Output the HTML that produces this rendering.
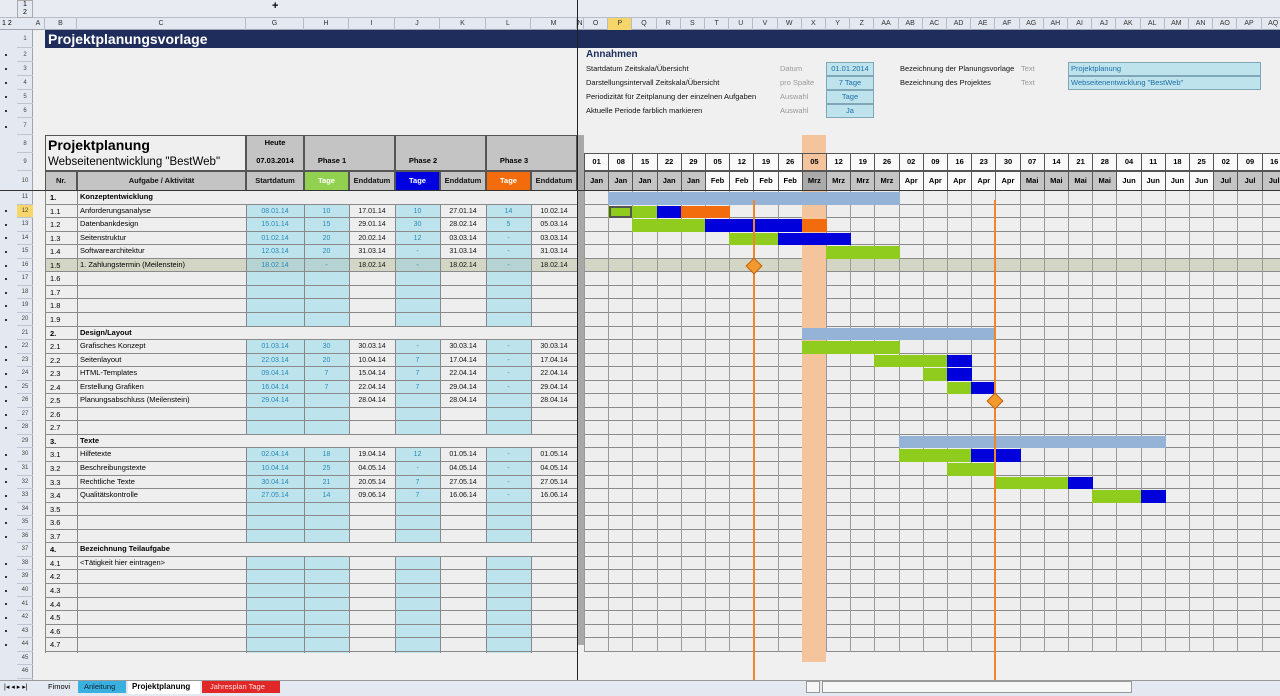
<!DOCTYPE html>
<html><head><meta charset="utf-8">
<style>
body{margin:0;width:1280px;height:696px;overflow:hidden;background:#f0f0f0;font-family:"Liberation Sans",sans-serif;position:relative}
div{position:absolute;box-sizing:border-box}
</style></head><body>
<div id="root" style="left:0;top:0;width:1280px;height:696px"></div>
<script>
(function(){
const R=document.getElementById('root');
function d(x,y,w,h,st,txt){const e=document.createElement('div');e.style.cssText='left:'+x+'px;top:'+y+'px;width:'+w+'px;height:'+h+'px;white-space:nowrap;'+(st||'');if(txt!==undefined)e.innerHTML=txt;R.appendChild(e);return e;}
function ry(n){return 191+(n-11)*13.55;}
d(0,0,1280,18,'background:#e8ebf2;border-bottom:1px solid #b8bcc8');
d(17,0,16,18,'font-size:7px;line-height:8px;text-align:center;border:1px solid #aaa;background:#e4e8f0','1<br>2');
d(272,1,8,10,'font-size:11px;line-height:10px;font-weight:bold','+');
d(0,18,1280,12,'background:#e4e8f0;border-bottom:1px solid #a0a4b0');
d(0,30,33,650,'background:#e4e8f0;border-right:1px solid #a0a4b0');
d(2,19,14,10,'font-size:7px;line-height:10px','1 2');
const cols=[['A',32,45],['B',45,77],['C',77,246],['G',246,304],['H',304,349],['I',349,395],['J',395,440],['K',440,486],['L',486,531],['M',531,577],['N',577,584]];
const gl=['O','P','Q','R','S','T','U','V','W','X','Y','Z','AA','AB','AC','AD','AE','AF','AG','AH','AI','AJ','AK','AL','AM','AN','AO','AP','AQ'];
cols.forEach(c=>d(c[1],18,c[2]-c[1],12,'font-size:7px;text-align:center;line-height:12px;color:#333;border-right:1px solid #b8bcc8',c[0]));
const G0=584,CW=24.2;
gl.forEach((c,i)=>d(G0+i*CW,18,CW,12,'font-size:7px;text-align:center;line-height:12px;color:#333;border-right:1px solid #b8bcc8;'+(c=='P'?'background:#f6d66a;':''),c));
const rowTops={1:30,2:48,3:62,4:76,5:90,6:104,7:118,8:135,9:153,10:171};
for(let n=1;n<=46;n++){let y=n<=10?rowTops[n]:ry(n);let h=n<=10?((rowTops[n+1]||191)-y):13.55;
 d(17,y,16,h,'font-size:6px;text-align:center;color:#444;border-bottom:1px solid #c0c4d0;line-height:'+h+'px;'+(n==12?'background:#f6d66a;':''),n);
 if(n>=2&&n<=7||n>=12&&n<=20||n>=22&&n<=28||n>=30&&n<=36||n>=38&&n<=44) d(5,y+h/2-1,2,2,'background:#333');}
d(45,30,1235,18,'background:#1f2d5c');
d(48,30,300,18,'color:#fff;font-weight:bold;font-size:14px;line-height:18px','Projektplanungsvorlage');
d(586,48,100,14,'font-weight:bold;font-size:10px;color:#1f2d5c;line-height:14px','Annahmen');
const an=[['Startdatum Zeitskala/Übersicht','Datum','01.01.2014'],['Darstellungsintervall Zeitskala/Übersicht','pro Spalte','7 Tage'],['Periodizität für Zeitplanung der einzelnen Aufgaben','Auswahl','Tage'],['Aktuelle Periode farblich markieren','Auswahl','Ja']];
an.forEach((a,i)=>{let y=62+i*14;d(586,y,190,14,'font-size:7.5px;line-height:14px;color:#111',a[0]);
 d(780,y,45,14,'font-size:7.5px;color:#999;line-height:14px',a[1]);
 d(826,y,48,14,'background:#bfe3ec;border:1px solid #7fa7b8;font-size:7.5px;color:#1b6fa8;text-align:center;line-height:12px',a[2]);});
d(900,62,120,14,'font-size:7.5px;line-height:14px;color:#111','Bezeichnung der Planungsvorlage');
d(900,76,120,14,'font-size:7.5px;line-height:14px;color:#111','Bezeichnung des Projektes');
d(1021,62,30,14,'font-size:7.5px;line-height:14px;color:#999','Text');d(1021,76,30,14,'font-size:7.5px;line-height:14px;color:#999','Text');
d(1068,62,193,14,'background:#bfe3ec;border:1px solid #7fa7b8;font-size:7.5px;color:#1b6fa8;line-height:12px;padding-left:2px','Projektplanung');
d(1068,76,193,14,'background:#bfe3ec;border:1px solid #7fa7b8;font-size:7.5px;color:#1b6fa8;line-height:12px;padding-left:2px','Webseitenentwicklung "BestWeb"');
const hb='border:1px solid #555;';
d(45,135,201,36,'background:#efefef;'+hb);
d(48,136,200,18,'font-weight:bold;font-size:14px;line-height:18px','Projektplanung');
d(48,154,200,16,'font-size:11.5px;line-height:16px','Webseitenentwicklung "BestWeb"');
d(246,135,58,36,'background:#c4c4c4;'+hb);
d(246,138,58,12,'font-size:7.5px;font-weight:bold;text-align:center','Heute');
d(246,156,58,12,'font-size:7.5px;font-weight:bold;text-align:center','07.03.2014');
[[304,395,'Phase 1'],[395,486,'Phase 2'],[486,577,'Phase 3']].forEach(p=>{d(p[0],135,p[1]-p[0],36,'background:#c4c4c4;'+hb);d(p[0],156,p[1]-p[0]-35,12,'font-size:7.5px;font-weight:bold;text-align:center',p[2]);});
const h10=[[45,77,'Nr.','#c4c4c4','#111'],[77,246,'Aufgabe / Aktivität','#c4c4c4','#111'],[246,304,'Startdatum','#c4c4c4','#111'],[304,349,'Tage','#92d050','#fff'],[349,395,'Enddatum','#c4c4c4','#111'],[395,440,'Tage','#0000e0','#fff'],[440,486,'Enddatum','#c4c4c4','#111'],[486,531,'Tage','#f26b0c','#fff'],[531,577,'Enddatum','#c4c4c4','#111']];
h10.forEach(h=>d(h[0],171,h[1]-h[0],20,'background:'+h[3]+';color:'+h[4]+';'+hb+'font-size:7.5px;font-weight:bold;text-align:center;line-height:18px',h[2]));
const rows={11:['1.','Konzeptentwicklung'],12:['1.1','Anforderungsanalyse','08.01.14','10','17.01.14','10','27.01.14','14','10.02.14'],13:['1.2','Datenbankdesign','15.01.14','15','29.01.14','30','28.02.14','5','05.03.14'],14:['1.3','Seitenstruktur','01.02.14','20','20.02.14','12','03.03.14','-','03.03.14'],15:['1.4','Softwarearchitektur','12.03.14','20','31.03.14','-','31.03.14','-','31.03.14'],16:['1.5','1. Zahlungstermin (Meilenstein)','18.02.14','-','18.02.14','-','18.02.14','-','18.02.14'],17:['1.6'],18:['1.7'],19:['1.8'],20:['1.9'],21:['2.','Design/Layout'],22:['2.1','Grafisches Konzept','01.03.14','30','30.03.14','-','30.03.14','-','30.03.14'],23:['2.2','Seitenlayout','22.03.14','20','10.04.14','7','17.04.14','-','17.04.14'],24:['2.3','HTML-Templates','09.04.14','7','15.04.14','7','22.04.14','-','22.04.14'],25:['2.4','Erstellung Grafiken','16.04.14','7','22.04.14','7','29.04.14','-','29.04.14'],26:['2.5','Planungsabschluss (Meilenstein)','29.04.14','','28.04.14','','28.04.14','','28.04.14'],27:['2.6'],28:['2.7'],29:['3.','Texte'],30:['3.1','Hilfetexte','02.04.14','18','19.04.14','12','01.05.14','-','01.05.14'],31:['3.2','Beschreibungstexte','10.04.14','25','04.05.14','-','04.05.14','-','04.05.14'],32:['3.3','Rechtliche Texte','30.04.14','21','20.05.14','7','27.05.14','-','27.05.14'],33:['3.4','Qualitätskontrolle','27.05.14','14','09.06.14','7','16.06.14','-','16.06.14'],34:['3.5'],35:['3.6'],36:['3.7'],37:['4.','Bezeichnung Teilaufgabe'],38:['4.1','&lt;Tätigkeit hier eintragen&gt;'],39:['4.2'],40:['4.3'],41:['4.4'],42:['4.5'],43:['4.6'],44:['4.7']};
const cx=[45,77,246,304,349,395,440,486,531,577];
for(let n=11;n<=44;n++){const r=rows[n],y=ry(n),h=13.55,sec=[11,21,29,37].includes(n);
 const bg=n==16?'#d3d6c4':'#eeeeee';
 d(45,y,532,h+1,'background:'+bg);
 if(!sec){[2,3,5,7].forEach(k=>d(cx[k],y,cx[k+1]-cx[k],h+1,'background:'+(n==16?'#b4d3d2':'#bde4ec')));}
 for(let k=0;k<10;k++){if(sec&&k>1&&k<9)continue;d(cx[k],y,1,h+1,'background:#888');}
 d(50,y,27,h,'font-size:7.5px;line-height:'+h+'px;'+(sec?'font-weight:bold':''),r[0]);
 if(r[1])d(80,y,165,h,'font-size:7.5px;line-height:'+(h-2)+'px;'+(sec?'font-weight:bold':''),r[1]);
 if(r.length>2)for(let k=2;k<9;k++){const blue=[2,3,5,7].includes(k);d(cx[k],y,cx[k+1]-cx[k],h,'font-size:7px;text-align:center;line-height:'+(h+1)+'px;color:'+(blue?'#2a8ab8':'#111'),r[k]);}
}
for(let n=11;n<=45;n++)d(45,Math.round(ry(n))-1,532,1,'background:#8a8a8a');
d(577,135,7,510,'background:#a8a8a8');
d(802,135,24,18,'background:#f4c49c');
const days=['01','08','15','22','29','05','12','19','26','05','12','19','26','02','09','16','23','30','07','14','21','28','04','11','18','25','02','09','16'];
const mon=['Jan','Jan','Jan','Jan','Jan','Feb','Feb','Feb','Feb','Mrz','Mrz','Mrz','Mrz','Apr','Apr','Apr','Apr','Apr','Mai','Mai','Mai','Mai','Jun','Jun','Jun','Jun','Jul','Jul','Jul'];
days.forEach((t,i)=>{const x=G0+i*CW;
 d(x,153,CW+1,18,'background:'+(i==9?'#f4c49c':'#fafafa')+';border:1px solid #555;font-size:7.5px;font-weight:bold;text-align:center;line-height:16px',t);
 const g=['Jan','Mrz','Mai','Jul'].includes(mon[i]);
 d(x,171,CW+1,20,'background:'+(i==9?'#aaa':(g?'#c4c4c4':'#fafafa'))+';border:1px solid #555;font-size:7.5px;font-weight:bold;text-align:center;line-height:18px',mon[i]);});
d(584,191,696,ry(45)-191,'background:#eeeeee');
for(let n=11;n<=44;n++){const y=ry(n);if(n==16)d(584,y,696,13.55,'background:#d3d6c4');d(584,Math.round(y+13.55)-1,696,1,'background:#8a8a8a');}
for(let i=0;i<=29;i++)d(Math.round(G0+i*CW),191,1,ry(45)-191,'background:#9a9a9a');
d(802,191,24,471,'background:#f4c49c');
const GR='#8fcc1e',BL='#0000dd',OR='#f26b0c',SB='#95b3d7';
function bar(n,a,b,c){d(G0+a*CW,ry(n)+1,(b-a)*CW+1,12.5,'background:'+c);}
bar(11,1,13,SB);bar(12,1,3,GR);bar(12,3,4,BL);bar(12,4,6,OR);bar(13,2,5,GR);bar(13,5,9,BL);bar(13,9,10,OR);
bar(14,6,8,GR);bar(14,8,11,BL);bar(15,10,13,GR);
bar(21,9,17,SB);bar(22,9,13,GR);bar(23,12,15,GR);bar(23,15,16,BL);bar(24,14,15,GR);bar(24,15,16,BL);bar(25,15,16,GR);bar(25,16,17,BL);
bar(29,13,24,SB);bar(30,13,16,GR);bar(30,16,18,BL);bar(31,15,17,GR);bar(32,17,20,GR);bar(32,20,21,BL);bar(33,21,23,GR);bar(33,23,24,BL);
d(G0+CW+1,ry(12)+1,CW-1,12.5,'border:2px solid #555');
d(753,200,2,480,'background:#f0862a');d(994,200,2,480,'background:#f0862a');
d(748,ry(16)+1,12,12,'background:#f29a2e;border:1px solid #c06010;transform:rotate(45deg)');
d(989,ry(26)+1,12,12,'background:#f29a2e;border:1px solid #c06010;transform:rotate(45deg)');
d(577,0,1,680,'background:#222');d(0,190,1280,1,'background:#333');
d(0,680,1280,16,'background:#e4e8f0;border-top:1px solid #999');
d(4,682,40,12,'font-size:7px;line-height:12px','|◂ ◂ ▸ ▸|');
d(44,681,30,12,'font-size:7.5px;line-height:12px;padding-left:4px','Fimovi');
d(78,681,48,12,'background:#3ab0e0;font-size:7.5px;line-height:12px;padding-left:6px;color:#123','Anleitung');
d(128,681,72,13,'background:#fff;font-size:8px;font-weight:bold;line-height:12px;padding-left:4px','Projektplanung');
d(202,681,78,12,'background:#e02828;font-size:7.5px;line-height:12px;padding-left:8px;color:#fdd','Jahresplan Tage');
d(822,681,310,12,'background:#f6f6f6;border:1px solid #999');
d(806,681,14,12,'background:#f6f6f6;border:1px solid #999');
})();
</script>
</body></html>
